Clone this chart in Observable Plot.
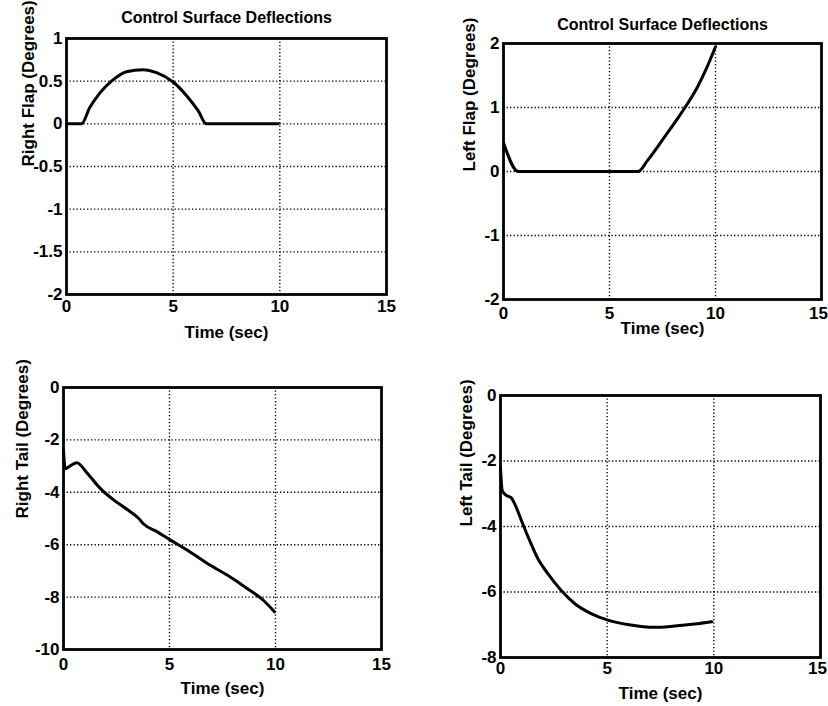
<!DOCTYPE html>
<html>
<head>
<meta charset="utf-8">
<script src="https://cdn.jsdelivr.net/npm/d3@7"></script>
<script src="https://cdn.jsdelivr.net/npm/@observablehq/plot@0.6"></script>
<style>
  html, body { margin: 0; padding: 0; background: white; }
  #root { position: relative; width: 828px; height: 706px; overflow: hidden; background: white; }
  .panel { position: absolute; width: 414px; height: 353px; }
</style>
</head>
<body>
<div id="root"></div>
<script>
// ---- Data ----
const timeTicks = [0, 5, 10, 15];

const rightFlapT = [0, 0.7, 1.09, 1.56, 2.11, 2.81, 3.59, 4.22, 5.0, 5.63, 6.17, 6.56, 9.92];
const rightFlapV = [0, 0, 0.19, 0.36, 0.5, 0.61, 0.635, 0.6, 0.49, 0.33, 0.155, 0, 0];
const rightFlapTicks = [-2, -1.5, -1, -0.5, 0, 0.5, 1];

const leftFlapT = [0, 0.7, 6.35, 6.79, 7.6, 8.36, 9.15, 9.6, 10.0];
const leftFlapV = [0.45, 0, 0, 0.17, 0.54, 0.9, 1.32, 1.63, 1.95];
const leftFlapTicks = [-2, -1, 0, 1, 2];

const rightTailT = [0, 0.08, 0.3, 0.63, 1.1, 1.73, 2.36, 2.99, 3.54, 3.78, 4.41, 5.04, 5.83, 6.77, 7.72, 8.66, 9.45, 9.95];
const rightTailV = [-2.4, -3.1, -3.0, -2.87, -3.25, -3.85, -4.29, -4.65, -4.99, -5.21, -5.5, -5.82, -6.2, -6.71, -7.16, -7.67, -8.14, -8.56];
const rightTailTicks = [-10, -8, -6, -4, -2, 0];

const leftTailT = [0, 0.08, 0.27, 0.5, 0.66, 0.97, 1.36, 1.75, 2.22, 2.84, 3.47, 4.25, 5.03, 6.1, 7.2, 8.16, 9.1, 9.9];
const leftTailV = [-2.2, -2.9, -3.05, -3.12, -3.3, -3.8, -4.42, -4.98, -5.44, -5.95, -6.35, -6.66, -6.86, -7.01, -7.08, -7.04, -6.98, -6.91];
const leftTailTicks = [-8, -6, -4, -2, 0];

const titleText = "Control Surface Deflections";
const xLabelText = "Time (sec)";

const FONT = "'Liberation Sans', Arial, Helvetica, sans-serif";

function panel(cfg) {
  const data = cfg.t.map((t, i) => ({t, v: cfg.v[i]}));
  const yTicks = cfg.yTicks;
  const yDomain = [yTicks[0], yTicks[yTicks.length - 1]];
  const innerY = yTicks.slice(1, -1);
  const lastX = timeTicks[timeTicks.length - 1];
  const marks = [
    Plot.gridX([5, 10], {stroke: "black", strokeOpacity: 1, strokeWidth: 1.4, strokeDasharray: "1.3,2.2"}),
    Plot.gridY(innerY, {stroke: "black", strokeOpacity: 1, strokeWidth: 1.4, strokeDasharray: "1.3,2.2"}),
    Plot.line(data, {x: "t", y: "v", stroke: "black", strokeWidth: 3, curve: "monotone-x"}),
    Plot.frame({stroke: "black", strokeWidth: 2.8}),
    Plot.axisX(timeTicks.slice(0, -1), {tickSize: 0, tickPadding: cfg.xPad, fontSize: 17, tickFormat: d => String(d), label: null}),
    Plot.axisX([lastX], {tickSize: 0, tickPadding: cfg.xPad, fontSize: 17, dx: cfg.lastDx || 0, tickFormat: d => String(d), label: null}),
    Plot.axisY(yTicks, {tickSize: 0, tickPadding: 4, fontSize: 17, tickFormat: d => String(d), label: null}),
    Plot.text([xLabelText], {frameAnchor: "bottom", dy: cfg.xLabDy, fontSize: 17, lineAnchor: "middle", text: d => d}),
    Plot.text([cfg.yLabel], {frameAnchor: "left", dx: cfg.yLabDx, rotate: -90, fontSize: 17, lineAnchor: "middle", text: d => d})
  ];
  if (cfg.title) {
    marks.push(Plot.text([cfg.title], {frameAnchor: "top", dy: cfg.titleDy, fontSize: 16, lineAnchor: "middle", text: d => d}));
  }
  const svg = Plot.plot({
    width: 414,
    height: 353,
    marginLeft: cfg.m[0],
    marginRight: cfg.m[1],
    marginTop: cfg.m[2],
    marginBottom: cfg.m[3],
    x: {domain: [0, 15]},
    y: {domain: yDomain},
    style: {fontFamily: FONT, fontWeight: "bold", background: "white", color: "black"},
    marks
  });
  const div = document.createElement("div");
  div.className = "panel";
  div.style.left = cfg.left + "px";
  div.style.top = cfg.top + "px";
  div.appendChild(svg);
  document.getElementById("root").appendChild(div);
}

panel({t: rightFlapT, v: rightFlapV, yTicks: rightFlapTicks, yLabel: "Right Flap (Degrees)", title: titleText,
  left: 0, top: 0, m: [66, 28, 38, 59], xPad: 5, xLabDy: 38, yLabDx: -38, titleDy: -21});
panel({t: leftFlapT, v: leftFlapV, yTicks: leftFlapTicks, yLabel: "Left Flap (Degrees)", title: titleText,
  left: 414, top: 0, m: [89, 7, 43, 54], xPad: 7, xLabDy: 29, yLabDx: -34, titleDy: -19, lastDx: -3});
panel({t: rightTailT, v: rightTailV, yTicks: rightTailTicks, yLabel: "Right Tail (Degrees)",
  left: 0, top: 353, m: [63, 33, 34, 57], xPad: 8, xLabDy: 39, yLabDx: -41});
panel({t: leftTailT, v: leftTailV, yTicks: leftTailTicks, yLabel: "Left Tail (Degrees)",
  left: 414, top: 353, m: [86, 8, 42, 49], xPad: 4, xLabDy: 36, yLabDx: -34, lastDx: -3});
</script>
</body>
</html>
